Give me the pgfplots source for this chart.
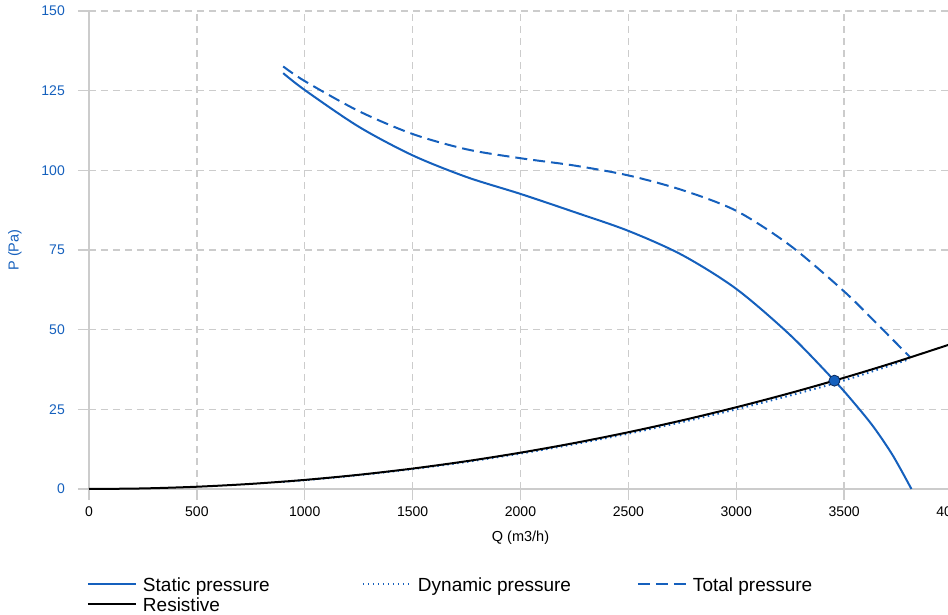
\documentclass[border=0pt]{standalone}
\usepackage{fontspec}
\setmainfont{Liberation Sans}
\usepackage{pgfplots}
\pgfplotsset{compat=1.18}
\definecolor{pblue}{RGB}{21,96,189}
\definecolor{gridgray}{RGB}{204,204,204}
\definecolor{mkedge}{RGB}{10,40,90}
\begin{document}
\begin{tikzpicture}
\begin{axis}[
  scale only axis,
  width=863pt, height=478pt,
  xmin=0, xmax=4000, ymin=0, ymax=150,
  xtick={0,500,...,4000},
  ytick={0,25,...,150},
  axis x line*=bottom, axis y line*=left,
  axis line style={draw=gridgray, line width=1.5pt},
  x axis line style={-}, y axis line style={-},
  grid=major,
  major grid style={draw=gridgray, line width=1.4pt, dash pattern=on 7pt off 5pt},
  tick align=outside,
  major tick length=11pt,
  major tick style={draw=gridgray, line width=1.4pt, solid},
  /pgf/number format/assume math mode=true,
  /pgf/number format/1000 sep={},
  tick label style={font=\fontsize{14}{16}\selectfont},
  yticklabel style={text=pblue, inner sep=0pt, xshift=-13pt},
  xticklabel style={text=black, inner sep=0pt, yshift=-7pt},
  xlabel={Q (m3/h)},
  ylabel={P (Pa)},
  every axis x label/.style={at={(axis description cs:0.5,-0.1025)}, anchor=center, font=\fontsize{14.5}{16}\selectfont},
  every axis y label/.style={at={(axis description cs:-0.0858,0.5)}, rotate=90, anchor=center, text=pblue, font=\fontsize{14.5}{16}\selectfont},
  clip=false,
  legend columns=3,
  legend style={at={(axis description cs:0,0)}, anchor=north west, xshift=-2pt, yshift=-88pt,
    draw=none, fill=none, inner sep=0pt, outer sep=0pt, column sep=6pt, row sep=6pt,
    font=\fontsize{19}{20}\selectfont,
    nodes={inner sep=0pt, text height=14pt, text depth=0pt}},
  legend cell align=left,
  legend image code/.code={\draw[#1] (0pt,0pt) -- (48pt,0pt);},
]
\addplot[pblue, line width=2pt, smooth] coordinates {
(900,130.5)(1000,125.2)(1250,113.7)(1500,104.7)(1750,97.9)(2000,92.6)(2250,86.9)(2500,81.0)(2750,73.4)(3000,62.8)(3250,48.3)(3455,34.0)(3545,27.1)(3635,19.6)(3725,10.6)(3812,0)};
\addlegendentry{\makebox[213pt][l]{Static pressure}}
\addplot[pblue, line width=2pt, dash pattern=on 1.5pt off 3.5pt, smooth] coordinates {
(900,2.25)(1000,2.78)(1250,4.34)(1500,6.26)(1750,8.51)(2000,11.12)(2250,14.07)(2500,17.38)(2750,21.02)(3000,25.02)(3250,29.36)(3500,34.06)(3804,40.8)};
\addlegendentry{\makebox[213pt][l]{Dynamic pressure}}
\addplot[pblue, line width=2pt, dash pattern=on 12pt off 6pt, smooth] coordinates {
(900,132.6)(1000,128.0)(1250,118.6)(1500,111.4)(1750,106.6)(2000,103.8)(2250,101.5)(2500,98.4)(2750,93.8)(3000,87.3)(3250,76.4)(3500,62.0)(3650,52.0)(3804,41.5)};
\addlegendentry{\makebox[213pt][l]{Total pressure}}
\addplot[black, line width=2pt, smooth] coordinates {
(0,0)(250,0.178)(500,0.713)(750,1.603)(1000,2.85)(1250,4.453)(1500,6.413)(1750,8.728)(2000,11.4)(2250,14.428)(2500,17.813)(2750,21.553)(3000,25.65)(3250,30.103)(3500,34.913)(3750,40.078)(4000,45.6)};
\addlegendentry{Resistive}
\addplot[only marks, mark=*, mark size=5.5pt, mark options={fill=pblue, draw=mkedge, line width=0.8pt}, forget plot] coordinates {(3455,34.0)};
\end{axis}
\pgfresetboundingbox
\path[use as bounding box] (-89pt,-126pt) rectangle (859pt,489pt);
\end{tikzpicture}
\end{document}
